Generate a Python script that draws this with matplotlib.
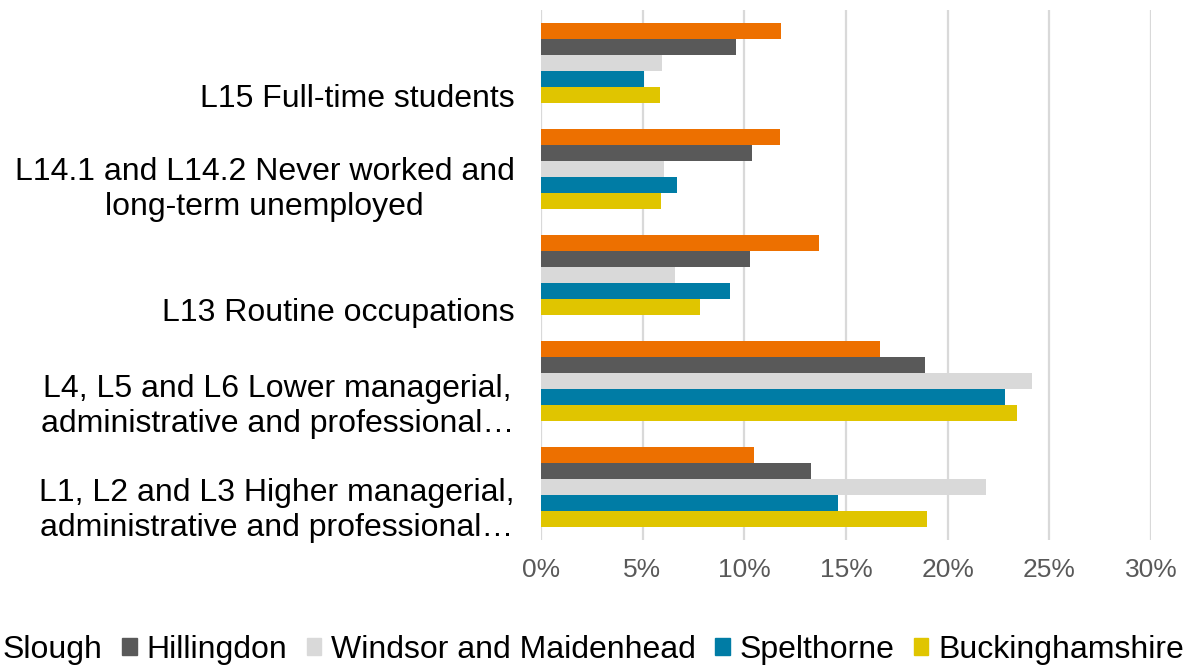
import numpy as np
import matplotlib
matplotlib.use("Agg")
import matplotlib.pyplot as plt
import matplotlib.transforms as mtransforms
from matplotlib.ticker import PercentFormatter
from matplotlib.patches import Patch

plt.rcParams['font.family'] = ['Liberation Sans', 'DejaVu Sans']

# categories, top to bottom
categories = [
    "L15 Full-time students",
    "L14.1 and L14.2 Never worked and\nlong-term unemployed",
    "L13 Routine occupations",
    "L4, L5 and L6 Lower managerial,\nadministrative and professional…",
    "L1, L2 and L3 Higher managerial,\nadministrative and professional…",
]
areas = ["Slough", "Hillingdon", "Windsor and Maidenhead", "Spelthorne", "Buckinghamshire"]
colors = ["#ED7000", "#595959", "#D9D9D9", "#007CA5", "#E0C500"]

# share of residents (%), same order as categories
slough = [11.8, 11.75, 13.7, 16.7, 10.5]
hillingdon = [9.6, 10.4, 10.3, 18.9, 13.3]
windsor = [5.95, 6.05, 6.6, 24.15, 21.9]
spelthorne = [5.05, 6.7, 9.3, 22.8, 14.6]
bucks = [5.85, 5.9, 7.85, 23.4, 19.0]
series = [slough, hillingdon, windsor, spelthorne, bucks]

fig = plt.figure(figsize=(11.86, 6.71), dpi=100)
ax = fig.add_axes([0.456, 0.195, 0.9705 - 0.456, 0.985 - 0.195])

y = np.arange(len(categories))
h = 0.151
for i, (vals, c) in enumerate(zip(series, colors)):
    ax.barh(y + (i - 2) * h, vals, height=h, color=c, label=areas[i])

ax.set_ylim(len(categories) - 0.5, -0.5)
ax.set_xlim(0, 30)
ax.set_xticks(np.arange(0, 31, 5))
ax.xaxis.set_major_formatter(PercentFormatter(decimals=0))
ax.grid(axis='x', color='#D9D9D9', linewidth=1.6)
ax.set_axisbelow(True)
for s in ax.spines.values():
    s.set_visible(False)
ax.tick_params(axis='x', length=0, labelsize=19, labelcolor='#595959', pad=13)
ax.tick_params(axis='y', length=0, labelsize=23, pad=19)

ax.set_yticks(y)
ax.set_yticklabels(categories, ha='right', multialignment='center', linespacing=1.25)
# nudge labels down like the original layout
offsets_px = [32, 14, 34, 19, 17]
for lab, off in zip(ax.get_yticklabels(), offsets_px):
    lab.set_transform(lab.get_transform() +
                      mtransforms.ScaledTranslation(0, -off / 100, fig.dpi_scale_trans))

# legend is wider than the figure, first marker falls off the left edge like the original
handles = [Patch(color=c) for c in colors]
fig.legend(handles, areas, loc='center right', bbox_to_anchor=(0.998, 0.031), ncol=5,
           frameon=False, fontsize=23, handlelength=0.45, handleheight=0.45,
           handletextpad=0.3, columnspacing=0.62, borderpad=0, borderaxespad=0)

fig.savefig("out.png", dpi=100)
